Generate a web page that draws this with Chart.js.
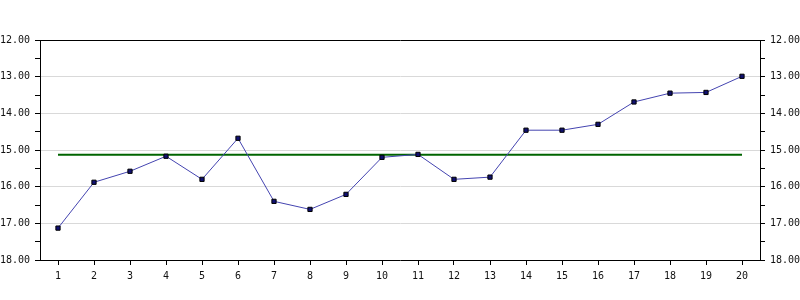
<!DOCTYPE html>
<html>
<head>
<meta charset="utf-8">
<script src="https://cdn.jsdelivr.net/npm/chart.js@4"></script>
<style>
  body { margin: 0; background: #fff; }
  #grafico { display: block; }
</style>
</head>
<body>
<canvas id="grafico" width="800" height="300"></canvas>
<script>
// Dados do gráfico
const categorias = ['1', '2', '3', '4', '5', '6', '7', '8', '9', '10',
                    '11', '12', '13', '14', '15', '16', '17', '18', '19', '20'];
const valores = [17.13, 15.88, 15.58, 15.17, 15.80, 14.68, 16.40, 16.62, 16.21, 15.20,
                 15.12, 15.80, 15.74, 14.46, 14.46, 14.30, 13.69, 13.45, 13.43, 12.99];
const nivelReferencia = 15.13;
const eixoMin = 12;
const eixoMax = 18;

// Configuração comum dos eixos verticais
function eixoY(posicao, desenharGrade) {
    return {
        type: 'linear',
        position: posicao,
        reverse: true,
        min: eixoMin,
        max: eixoMax,
        border: { color: '#000', width: 1 },
        grid: {
            drawOnChartArea: desenharGrade,
            tickLength: 5,
            tickColor: '#000',
            color: ctx => {
                const v = ctx.tick ? ctx.tick.value : null;
                if (v === eixoMin) return '#000';
                if (v !== null && Number.isInteger(v) && v !== eixoMax) return '#d9d9d9';
                return 'rgba(0,0,0,0)';
            }
        },
        ticks: {
            stepSize: 0.5,
            autoSkip: false,
            padding: 5,
            color: '#111',
            font: { family: 'DejaVu Sans Mono', size: 10 },
            callback: v => Number.isInteger(v) ? v.toFixed(2) : ''
        },
        afterFit: escala => { escala.width = 40; }
    };
}

const ctx = document.getElementById('grafico').getContext('2d');
const grafico = new Chart(ctx, {
    type: 'line',
    data: {
        labels: categorias,
        datasets: [{
            data: valores,
            borderColor: '#4444b0',
            borderWidth: 1,
            pointStyle: 'rect',
            pointRadius: 3,
            pointBorderWidth: 1,
            pointBorderColor: '#000',
            pointBackgroundColor: '#101070',
            tension: 0,
            yAxisID: 'y',
            order: 1
        }, {
            data: categorias.map(() => nivelReferencia),
            borderColor: '#006400',
            borderWidth: 2,
            pointRadius: 0,
            tension: 0,
            yAxisID: 'y',
            order: 2
        }]
    },
    options: {
        responsive: false,
        animation: false,
        layout: { padding: { top: 40, left: 0, right: 0, bottom: 0 } },
        plugins: {
            legend: { display: false },
            tooltip: { enabled: false }
        },
        scales: {
            x: {
                offset: true,
                border: { color: '#000', width: 1 },
                grid: {
                    drawOnChartArea: false,
                    tickLength: 5,
                    tickColor: '#000',
                    offset: false
                },
                ticks: {
                    autoSkip: false,
                    maxRotation: 0,
                    padding: 5,
                    color: '#111',
                    font: { family: 'DejaVu Sans Mono', size: 10 }
                },
                afterFit: escala => { escala.height = 40; }
            },
            y: eixoY('left', true),
            y2: eixoY('right', false)
        }
    }
});
</script>
</body>
</html>
